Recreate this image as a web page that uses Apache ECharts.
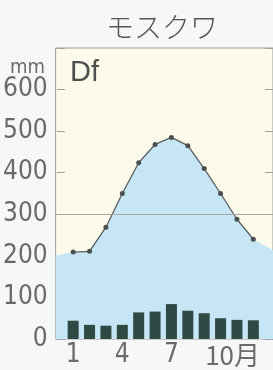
<!DOCTYPE html>
<html>
<head>
<meta charset="utf-8">
<script src="https://cdn.jsdelivr.net/npm/echarts@6/dist/echarts.min.js"></script>
<style>
html,body{margin:0;padding:0;background:#f6f8f7;}
#c{width:273px;height:370px;}
</style>
</head>
<body>
<div id="c"></div>
<script>
// Data
const months = [1,2,3,4,5,6,7,8,9,10,11,12];
const precipitation = [44, 34, 32, 34, 64, 66, 84, 68, 62, 50, 46, 45];
const tempCurve = [209, 211, 269, 350, 424, 468, 485, 465, 410, 350, 288, 240];
const areaEdgeMonths = [-0.07, 13.2];
const areaEdgeValues = [201, 213];
const xTickLabels = [1, 4, 7, 10];
const yTicks = [0,100,200,300,400,500,600];

const FONT = '"Liberation Sans Narrow","DejaVu Sans Condensed","Liberation Sans",sans-serif';
const chart = echarts.init(document.getElementById('c'), null, {renderer:'canvas'});

const barData = months.map((m,i)=>[m, precipitation[i]]);
const lineData = months.map((m,i)=>[m, tempCurve[i]]);
const areaData = [[areaEdgeMonths[0], areaEdgeValues[0]]].concat(lineData, [[areaEdgeMonths[1], areaEdgeValues[1]]]);

const yAxisBase = {
  type:'value', min:0, max:700, interval:100,
  axisLine:{show:false},
  splitLine:{show:false},
  axisTick:{show:true, inside:true, length:8, lineStyle:{color:'#a0a0a0', width:1}}
};

chart.setOption({
  animation:false,
  backgroundColor:'#f6f8f7',
  grid:{left:53, right:-3, top:48, bottom:31, show:true, backgroundColor:'#fcfaea', borderColor:'#9c9c9c', borderWidth:1},
  xAxis:{
    type:'value', min:areaEdgeMonths[0], max:areaEdgeMonths[1],
    axisLine:{show:false}, axisTick:{show:false}, splitLine:{show:false},
    axisLabel:{
      customValues:xTickLabels, margin:3,
      fontFamily:FONT, fontSize:26, color:'#6a6a6a',
      formatter:v => v===10 ? '{m|10月}' : String(v),
      rich:{m:{fontFamily:'"Liberation Sans Narrow","Noto Sans CJK JP",sans-serif', fontSize:26, color:'#6a6a6a', padding:[0,0,0,24]}}
    }
  },
  yAxis:[
    Object.assign({}, yAxisBase, {position:'left',
      axisLabel:{margin:8, fontFamily:FONT, fontSize:26, color:'#6a6a6a',
        formatter:v => yTicks.indexOf(v)>=0 ? String(v) : ''}}),
    Object.assign({}, yAxisBase, {position:'right', axisLabel:{show:false}})
  ],
  series:[
    {type:'line', data:areaData, symbol:'none', lineStyle:{width:0, opacity:0},
     areaStyle:{color:'#c6e5f5', opacity:1}, z:1, silent:true},
    {type:'bar', data:barData, barWidth:11, itemStyle:{color:'#2f4944'}, z:3},
    {type:'line', data:lineData, symbol:'circle', symbolSize:5,
     lineStyle:{color:'#5a5f60', width:1.3}, itemStyle:{color:'#4a5050'}, z:4,
     markLine:{silent:true, symbol:'none', label:{show:false},
       lineStyle:{color:'#a8a8a0', width:1, type:'solid'}, data:[{yAxis:300}]}}
  ],
  graphic:[
    {type:'text', left:null, x:162, y:13, style:{text:'モスクワ', fill:'#555', font:'300 28px "Noto Sans CJK JP", sans-serif', textAlign:'center', textVerticalAlign:'top'}},
    {type:'text', x:45, y:68, style:{text:'mm', fill:'#6a6a6a', font:'20px '+FONT, textAlign:'right', textVerticalAlign:'middle'}},
    {type:'text', x:70, y:73, style:{text:'Df', fill:'#4e4e4e', font:'29px "Liberation Sans", Arial, sans-serif', textAlign:'left', textVerticalAlign:'middle'}}
  ]
});
</script>
</body>
</html>
